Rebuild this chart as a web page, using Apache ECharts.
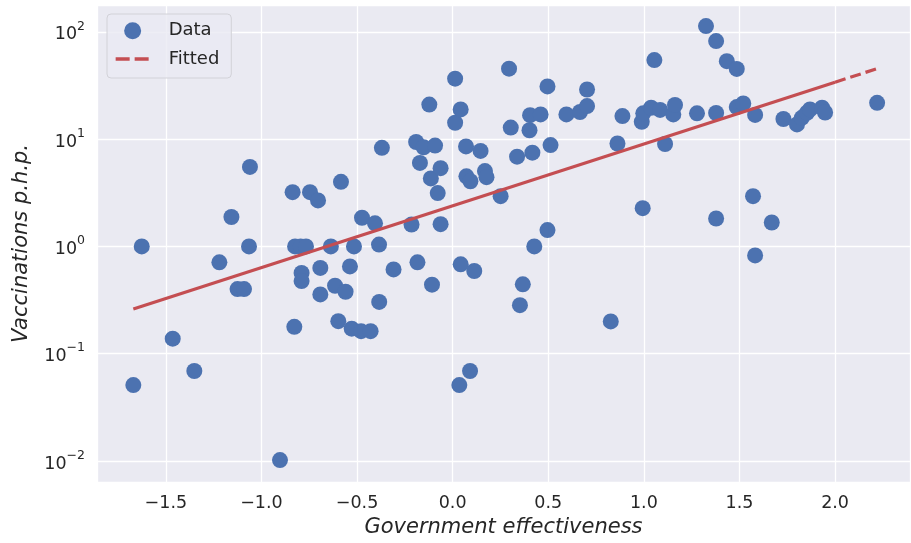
<!DOCTYPE html>
<html><head><meta charset="utf-8">
<script src="https://cdn.jsdelivr.net/npm/echarts@6/dist/echarts.min.js"></script>
<style>html,body{margin:0;padding:0;background:#fff}#c{width:911px;height:543px}</style>
</head><body><div id="c"></div>
<script>
const govEff = [
 -1.670,-1.626,-1.464,-1.351,-1.220,-1.157,-1.125,-1.091,-1.065,-1.060,
 -0.903,-0.837,-0.828,-0.824,-0.795,-0.767,-0.790,-0.790,-0.746,-0.704,
 -0.692,-0.692,-0.637,-0.615,-0.560,-0.584,-0.598,-0.537,-0.528,-0.516,
 -0.479,-0.429,-0.474,-0.406,-0.385,-0.384,-0.370,-0.309,-0.215,-0.191,
 -0.152,-0.092,-0.184,-0.171,-0.122,-0.114,-0.108,-0.078,-0.063,-0.063,
 0.013,0.013,0.042,0.035,0.042,0.070,0.072,0.093,0.091,0.113,
 0.146,0.169,0.177,0.251,0.295,0.304,0.337,0.352,0.367,0.402,
 0.405,0.417,0.427,0.460,0.496,0.496,0.512,0.595,0.666,0.703,
 0.703,0.827,0.862,0.888,0.989,0.997,0.994,1.038,1.055,1.085,
 1.111,1.154,1.163,1.278,1.325,1.378,1.378,1.378,1.434,1.486,
 1.486,1.520,1.571,1.582,1.582,1.669,1.730,1.801,1.826,1.853,
 1.869,1.932,1.948,2.220
];
const vaccinations = [
 0.051,1.0,0.138,0.069,0.71,1.88,0.40,0.40,1.0,5.5,
 0.0102,3.2,0.178,1.0,1.0,1.0,0.566,0.475,3.2,2.68,
 0.63,0.357,1.0,0.43,0.378,4.0,0.201,0.65,0.171,1.0,
 0.162,0.162,1.85,1.64,1.04,0.304,8.3,0.61,1.6,9.4,
 8.4,8.7,0.71,6.0,21.0,4.3,0.44,3.14,5.36,1.61,
 36.6,14.2,18.9,0.051,0.68,8.55,4.5,4.05,0.069,0.59,
 7.76,5.03,4.42,2.94,45.3,12.8,6.86,0.283,0.443,12.1,
 16.7,7.47,1.0,17.0,31.0,1.42,8.8,17.0,17.9,20.3,
 29.0,0.2,9.1,16.4,14.5,17.4,2.27,19.6,54.5,18.7,
 9.0,17.0,20.8,17.4,113,81.9,17.5,1.82,53.3,45.1,
 19.9,21.5,2.94,16.8,0.824,1.67,15.4,13.7,15.8,17.6,
 18.9,19.6,17.7,21.8
];
// fitted line: solid part then visibly dashed tail
const fitSolidX = [-1.67, 2.0];
const fitSolidY = [0.261, 33.9];
const fitDashX = [2.0, 2.22];
const fitDashY = [33.9, 45.4];
const yExponents = [-2, -1, 0, 1, 2];
const legendNames = ['Data', 'Fitted'];
const xTitle = 'Government effectiveness';
const yTitle = 'Vaccinations p.h.p.';

const FONT = 'DejaVu Sans';
const TXT = '#262626';
function fmtX(v){ return (v < 0 ? '\u2212' : '') + Math.abs(v).toFixed(1); }
function fmtY(v){
  const e = Math.round(Math.log10(v));
  if (yExponents.indexOf(e) < 0) return '';
  return '{b|10}{s|' + (e < 0 ? '\u2212' + (-e) : e) + '}';
}

const chart = echarts.init(document.getElementById('c'), null, {renderer:'canvas'});
chart.setOption({
  animation: false,
  backgroundColor: '#ffffff',
  grid: { left: 97, right: 1, top: 5, bottom: 61, show: true, backgroundColor: '#EAEAF2', borderWidth: 0 },
  legend: {
    data: [
      { name: legendNames[0] },
      { name: legendNames[1], itemStyle: { color: 'rgba(0,0,0,0)', opacity: 0 },
        lineStyle: { color: '#C44E52', width: 3.3, type: [14, 5] } }
    ],
    orient: 'vertical', left: 107, top: 14,
    padding: [7.7, 12, 10, 7], itemWidth: 34, itemHeight: 17, itemGap: 10.3,
    backgroundColor: 'rgba(234,234,242,0.8)', borderColor: '#d2d2d8', borderWidth: 1, borderRadius: 4,
    textStyle: { fontFamily: FONT, fontSize: 18, color: TXT, lineHeight: 18, padding: [0,0,0,14] }
  },
  xAxis: {
    type: 'value', min: -1.86, max: 2.392, splitNumber: 8,
    axisLine: {show:false}, axisTick: {show:false},
    splitLine: { show: true, lineStyle: { color: '#ffffff', width: 1.3 } },
    axisLabel: { formatter: fmtX, showMinLabel: false, showMaxLabel: false, margin: 12,
      fontFamily: FONT, fontSize: 17.5, color: TXT },
    name: xTitle, nameLocation: 'middle', nameGap: 32,
    nameTextStyle: { fontFamily: FONT, fontStyle: 'italic', fontSize: 21, color: TXT }
  },
  yAxis: {
    type: 'log', logBase: 10, min: 0.006368, max: 177.8,
    axisLine: {show:false}, axisTick: {show:false},
    splitLine: { show: true, lineStyle: { color: '#ffffff', width: 1.3 } },
    minorSplitLine: { show: false },
    axisLabel: { formatter: fmtY, showMinLabel: false, showMaxLabel: false, margin: 12,
      fontFamily: FONT, color: TXT,
      rich: {
        b: { fontFamily: FONT, fontSize: 17.5, color: TXT, verticalAlign: 'bottom', lineHeight: 24 },
        s: { fontFamily: FONT, fontSize: 12.5, color: TXT, verticalAlign: 'top', lineHeight: 24 }
      } },
    name: yTitle, nameLocation: 'middle', nameGap: 65,
    nameTextStyle: { fontFamily: FONT, fontStyle: 'italic', fontSize: 21, color: TXT }
  },
  series: [
    { name: 'Data', type: 'scatter', symbol: 'circle', symbolSize: 16, z: 2,
      itemStyle: { color: '#4C72B0', opacity: 1 },
      data: govEff.map((x, i) => [x, vaccinations[i]]) },
    { name: 'Fitted', type: 'line', symbol: 'none', z: 4,
      lineStyle: { color: '#C44E52', width: 3.2, type: [11, 5] }, itemStyle: { color: '#C44E52' },
      data: fitDashX.map((x, i) => [x, fitDashY[i]]) },
    { name: 'FittedSolid', type: 'line', symbol: 'none', z: 4,
      lineStyle: { color: '#C44E52', width: 3.2, type: 'solid' }, itemStyle: { color: '#C44E52' },
      data: fitSolidX.map((x, i) => [x, fitSolidY[i]]) }
  ]
});
</script></body></html>
